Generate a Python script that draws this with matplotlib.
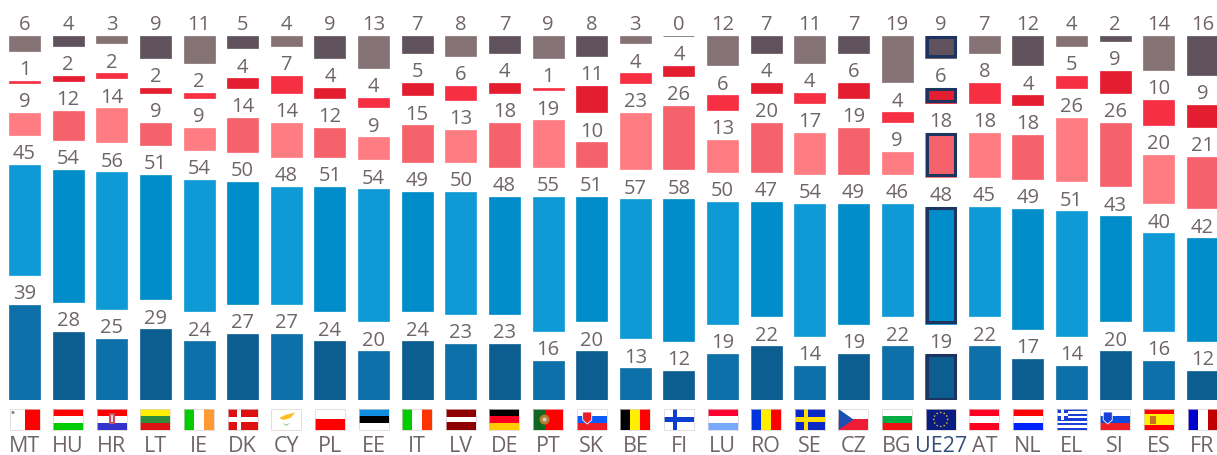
"""Eurobarometer style stacked country bars with flags."""

from __future__ import annotations

import matplotlib

matplotlib.use("Agg")
import matplotlib.pyplot as plt
import numpy as np
from matplotlib.patches import Circle, Polygon, Rectangle

countries = ["MT", "HU", "HR", "LT", "IE", "DK", "CY", "PL", "EE", "IT", "LV", "DE", "PT", "SK",
             "BE", "FI", "LU", "RO", "SE", "CZ", "BG", "UE27", "AT", "NL", "EL", "SI", "ES", "FR"]
very_good = [39, 28, 25, 29, 24, 27, 27, 24, 20, 24, 23, 23, 16, 20, 13, 12, 19, 22, 14, 19, 22, 19, 22, 17, 14, 20, 16, 12]
good = [45, 54, 56, 51, 54, 50, 48, 51, 54, 49, 50, 48, 55, 51, 57, 58, 50, 47, 54, 49, 46, 48, 45, 49, 51, 43, 40, 42]
bad = [9, 12, 14, 9, 9, 14, 14, 12, 9, 15, 13, 18, 19, 10, 23, 26, 13, 20, 17, 19, 9, 18, 18, 18, 26, 26, 20, 21]
very_bad = [1, 2, 2, 2, 2, 4, 7, 4, 4, 5, 6, 4, 1, 11, 4, 4, 6, 4, 4, 6, 4, 6, 8, 4, 5, 9, 10, 9]
dont_know = [6, 4, 3, 9, 11, 5, 4, 9, 13, 7, 8, 7, 9, 8, 3, 0, 12, 7, 11, 7, 19, 9, 7, 12, 4, 2, 14, 16]

series = [very_good, good, bad, very_bad, dont_know]
# light / dark shade, the columns alternate between them
shades = [("#0D70A8", "#0C5E90"), ("#0F9AD6", "#008DC9"), ("#FF7C83", "#F6626C"),
          ("#F62F43", "#E31E30"), ("#857275", "#5F525C")]

WIDTH, HEIGHT = 1217, 456
BASE_Y = 401
PX_PER_UNIT = 2.44
GAP = 30 / PX_PER_UNIT
PITCH = 43.63
FIRST_X = 24.5
BAR_PX = 31
TEXT = "#6F6568"
NAVY = "#1D3461"
plt.rcParams["font.family"] = ["Open Sans", "DejaVu Sans"]


def stripes(ax, x, y, colors, horizontal=True, w=30, h=21):
    colors = list(colors)
    for i, c in enumerate(colors):
        if horizontal:
            ax.add_patch(Rectangle((x, y + i * h / len(colors)), w, h / len(colors), fc=c, ec="none"))
        else:
            ax.add_patch(Rectangle((x + i * w / len(colors), y), w / len(colors), h, fc=c, ec="none"))


def cross(ax, x, y, bg, fg, w=30, h=21):
    ax.add_patch(Rectangle((x, y), w, h, fc=bg, ec="none"))
    ax.add_patch(Rectangle((x + 9, y), 4.5, h, fc=fg, ec="none"))
    ax.add_patch(Rectangle((x, y + 8.2), w, 4.5, fc=fg, ec="none"))


def draw_flag(ax, code, x, y):
    horizontal = {
        "HU": ["#FF0000", "#FFFFFF", "#00CC00"], "HR": ["#FF0000", "#FFFFFF", "#3333CC"],
        "LT": ["#FFEE00", "#2E8B3A", "#DD1111"], "PL": ["#FFFFFF", "#FF0000"],
        "EE": ["#0F8FE0", "#000000", "#FFFFFF"], "LV": ["#8E0000", "#8E0000", "#FFFFFF", "#8E0000", "#8E0000"],
        "DE": ["#000000", "#FF0022", "#FFCC00"], "SK": ["#FFFFFF", "#0B5CFF", "#EE1C25"],
        "LU": ["#FF0033", "#FFFFFF", "#77AAFF"], "BG": ["#FFFFFF", "#00AA44", "#EE1111"],
        "AT": ["#FF0022", "#FFFFFF", "#FF0022"], "NL": ["#FF0000", "#FFFFFF", "#0022FF"],
        "SI": ["#FFFFFF", "#0B4CE0", "#EE1C25"], "ES": ["#FF0000", "#FFEE00", "#FFEE00", "#FF0000"],
    }
    vertical = {
        "IE": ["#00CC00", "#FFFFFF", "#FF9933"], "IT": ["#00CC00", "#FFFFFF", "#FF3300"],
        "BE": ["#000000", "#FFEE00", "#FF0000"], "RO": ["#0033DD", "#FFEE00", "#FF0000"],
        "FR": ["#0000CC", "#FFFFFF", "#C00000"], "MT": ["#FFFFFF", "#FF0000"],
    }
    if code in horizontal:
        stripes(ax, x, y, horizontal[code])
    elif code in vertical:
        stripes(ax, x, y, vertical[code], horizontal=False)
    elif code == "DK":
        cross(ax, x, y, "#DD1111", "#FFFFFF")
    elif code == "FI":
        cross(ax, x, y, "#FFFFFF", "#0B3FD0")
    elif code == "SE":
        cross(ax, x, y, "#0A28C8", "#FFDD00")
    elif code == "CY":
        ax.add_patch(Rectangle((x, y), 30, 21, fc="#FFFFFF", ec="none"))
        ax.add_patch(Polygon([(x + 8, y + 9), (x + 14, y + 6), (x + 24, y + 3.5), (x + 19, y + 9), (x + 12, y + 11)], fc="#FFBB22", ec="none"))
        ax.add_patch(Polygon([(x + 11, y + 14), (x + 15, y + 17), (x + 19, y + 14), (x + 15, y + 15.5)], fc="#88CC88", ec="none"))
    elif code == "PT":
        stripes(ax, x, y, ["#116622", "#116622", "#FF0000", "#FF0000", "#FF0000"], horizontal=False)
        ax.add_patch(Circle((x + 11.5, y + 10.5), 5, fc="#B08030", ec="none"))
        ax.add_patch(Circle((x + 11.5, y + 10.5), 2, fc="#DDCCCC", ec="none"))
    elif code == "CZ":
        stripes(ax, x, y, ["#FFFFFF", "#EE1C35"])
        ax.add_patch(Polygon([(x, y), (x + 15, y + 10.5), (x, y + 21)], fc="#1C50B0", ec="none"))
    elif code == "UE27":
        ax.add_patch(Rectangle((x, y), 30, 21, fc="#0B1C80", ec="none"))
        for angle in np.arange(0, 2 * np.pi, np.pi / 6):
            ax.add_patch(Circle((x + 15 + 7 * np.cos(angle), y + 10.5 + 7 * np.sin(angle)), 0.8, fc="#D8C030", ec="none"))
    elif code == "EL":
        stripes(ax, x, y, ["#1A3FD8", "#FFFFFF"] * 4 + ["#1A3FD8"])
        ax.add_patch(Rectangle((x, y), 11.5, 11.5, fc="#1A3FD8", ec="none"))
        ax.add_patch(Rectangle((x + 4.5, y), 2.4, 11.5, fc="#FFFFFF", ec="none"))
        ax.add_patch(Rectangle((x, y + 4.5), 11.5, 2.4, fc="#FFFFFF", ec="none"))
    # small emblems
    if code == "MT":
        ax.add_patch(Circle((x + 3.5, y + 3.5), 1.6, fc="#888888", ec="none"))
    elif code == "HR":
        ax.add_patch(Rectangle((x + 12, y + 4), 6, 11, fc="#C85060", ec="none"))
        ax.add_patch(Rectangle((x + 14, y + 6), 2, 7, fc="#EEDDDD", ec="none"))
    elif code in ("SK", "SI"):
        sx = x + 6 if code == "SK" else x + 3
        ax.add_patch(Polygon([(sx, y + 3), (sx + 9, y + 3), (sx + 9, y + 11), (sx + 4.5, y + 15), (sx, y + 11)],
                             fc="#EE1C25" if code == "SK" else "#1A3FD8", ec="#FFFFFF", lw=0.6))
    elif code == "ES":
        ax.add_patch(Rectangle((x + 6, y + 7), 6, 8, fc="#C87020", ec="none"))
    ax.add_patch(Rectangle((x, y), 30, 21, fc="none", ec="#D9CFCF", lw=0.6, alpha=0.8))


fig = plt.figure(figsize=(WIDTH / 100, HEIGHT / 100), dpi=100)
ax = fig.add_axes([0, (HEIGHT - BASE_Y) / HEIGHT, 1, BASE_Y / HEIGHT])
ax.set_xlim(-FIRST_X / PITCH, (WIDTH - FIRST_X) / PITCH)
ax.set_ylim(0, BASE_Y / PX_PER_UNIT)

x = np.arange(len(countries))
bottom = np.zeros(len(countries))
bar_w = BAR_PX / PITCH
hl = countries.index("UE27")
for values, (light, dark) in zip(series, shades):
    values = np.array(values)
    colors = [dark if i % 2 else light for i in x]
    ax.bar(x, values, bar_w, bottom=bottom, color=colors, edgecolor=colors, linewidth=0.5)
    # UE27 gets a navy frame drawn inside the bar
    ax.bar(x[hl], values[hl] - 3 / PX_PER_UNIT, bar_w - 3 / PITCH, bottom=bottom[hl] + 1.5 / PX_PER_UNIT,
           facecolor="none", edgecolor=NAVY, linewidth=2.2, zorder=3)
    for xi, top, v in zip(x, bottom + values, values):
        ax.annotate(str(v), (xi, top), xytext=(0, 4.8), textcoords="offset points", ha="center", va="baseline",
                    fontsize=14.5, color=TEXT)
    bottom = bottom + values + GAP

ax.set_xticks(x, countries)
ax.tick_params(axis="x", length=0, pad=25.5, labelsize=15.5, labelcolor=TEXT)
ax.get_xticklabels()[hl].set_color("#34507A")
ax.set_yticks([])
for spine in ax.spines.values():
    spine.set_visible(False)
ax.patch.set_alpha(0)

flags = fig.add_axes([0, 0, 1, 1], zorder=-1)
flags.set_xlim(0, WIDTH)
flags.set_ylim(HEIGHT, 0)
flags.axis("off")
for i, code in enumerate(countries):
    draw_flag(flags, code, FIRST_X + i * PITCH - 15, 410)

fig.savefig("out.png", dpi=100)
plt.close(fig)
